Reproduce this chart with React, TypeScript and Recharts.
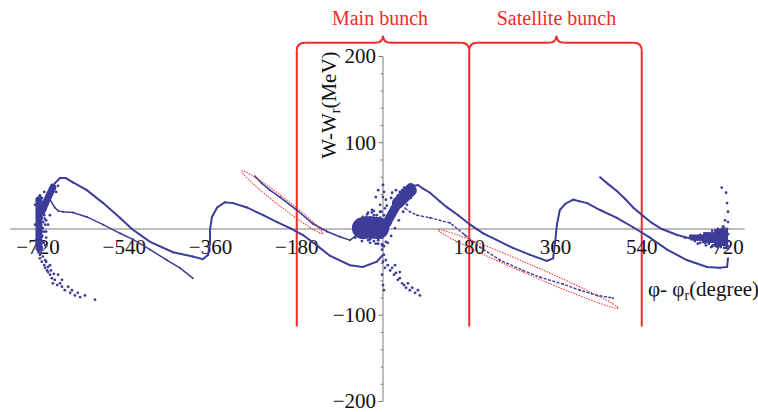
import React from 'react';
import { ScatterChart, Scatter, XAxis, YAxis, ReferenceLine, ReferenceDot } from 'recharts';

const BLUE = '#3d3d99';
const RED = '#ee2b2b';
const AXIS = '#7a7a7a';
const FONT = "'Liberation Serif', 'Times New Roman', Times, serif";

const xTicks = [-720, -540, -360, -180, 180, 360, 540, 720];
const xTickLabels = ['−720', '−540', '−360', '−180', '180', '360', '540', '720'];
const yTicks = [-200, -100, 100, 200];
const yTickLabels = ['−200', '−100', '100', '200'];
const yMinorTicks = [-180, -160, -140, -120, -80, -60, -40, -20, 20, 40, 60, 80, 120, 140, 160, 180];

// phase (deg), energy (MeV)
const upperLeftWave = [
  [-705, 28], [-695, 43], [-685, 53], [-674, 59], [-662, 59], [-647, 54], [-618, 45], [-584, 30], [-549, 13],
  [-524, 0], [-486, -15], [-438, -27], [-397, -32], [-376, -35], [-365, -30], [-361, -16], [-361, -1], [-357, 14],
  [-346, 25], [-330, 31], [-313, 30], [-284, 25], [-250, 16], [-221, 8], [-194, 1], [-167, -7], [-138, -19],
  [-111, -31], [-69, -42], [-42, -44], [-13, -38], [0, -30],
];
const lowerLeftBranch = [
  [-695, 34], [-685, 25], [-678, 21], [-668, 20], [-647, 19], [-618, 14], [-584, 5], [-549, -5], [-522, -12],
  [-486, -24], [-451, -36], [-424, -45], [-397, -57],
];
const ellipseLeftLine = [
  [-267, 61], [-253, 53], [-236, 45], [-215, 37], [-180, 22], [-146, 6], [-117, -3], [-90, -9], [-69, -13],
  [-54, -7], [-42, 1],
];
const upperRightWave = [
  [8, 8], [21, 22], [35, 36], [50, 45], [63, 50], [73, 51], [83, 47], [98, 42], [119, 32], [134, 25], [157, 16],
  [182, 5], [209, -5], [238, -13], [271, -22], [307, -30], [342, -37], [355, -34], [359, -16], [363, 5], [369, 22],
  [380, 29], [397, 34], [411, 32], [426, 30], [453, 22], [488, 13], [522, 2], [557, -10], [593, -24], [634, -36],
  [676, -44], [703, -45], [718, -44], [720, -34],
];
const lowerRightBranch = [
  [46, 24], [56, 20], [71, 16], [98, 13], [140, 7], [171, -7], [202, -21], [244, -36], [292, -48], [328, -56],
  [376, -64], [411, -71], [447, -77], [480, -80],
];
const upperRightLine = [
  [453, 60], [470, 52], [488, 44], [505, 35], [522, 25], [543, 15], [561, 7], [582, 0], [614, -7], [647, -12],
  [672, -13], [693, -10], [718, -7],
];

// dense cores of the bunches
const leftCoreBand = [[-718, 34], [-718, -22]];
const leftCoreRise = [[-712, 20], [-701, 34], [-689, 48]];
const centerCoreBlob = [[-42, 1], [-27, 2], [-10, 1]];
const centerCoreRise = [[0, -1], [15, 14], [31, 30], [46, 42], [58, 48]];
const centerCoreRiseTop = [[31, 30], [58, 45]];
const rightCoreThin = [[641, -10], [720, -10]];
const rightCoreMid = [[668, -10], [720, -10]];
const rightCoreThick = [[691, -10], [720, -10]];

const leftCluster = [
  [-722, 34], [-720, 28], [-722, 22], [-718, 16], [-720, 10], [-722, 5], [-718, -1], [-720, -7], [-716, -13],
  [-720, -19], [-714, -24], [-716, -30], [-714, 30], [-712, 24], [-716, 20], [-712, 13], [-714, 8], [-710, 1],
  [-712, -3], [-714, -10], [-710, -15], [-712, -22], [-707, 28], [-705, 22], [-707, 16], [-703, 10], [-705, 5],
  [-707, -3], [-703, -10], [-701, 36], [-699, 42], [-695, 45], [-691, 51], [-697, 34], [-695, 39], [-701, 28],
  [-689, 48], [-703, 34], [-716, 39], [-712, 36], [-719, 25], [-717, 18], [-721, 13], [-719, 2], [-717, -5],
  [-721, -12], [-717, -18], [-719, -27], [-709, 18], [-709, 8], [-711, -8], [-708, -16], [-706, 12],
  [-716, -34], [-712, -38], [-707, -42], [-705, -45], [-701, -48], [-699, -50], [-695, -53], [-691, -57],
  [-685, -59], [-689, -63], [-680, -65], [-674, -63], [-670, -67], [-664, -71], [-657, -67], [-653, -74],
  [-649, -71], [-643, -77], [-637, -74], [-632, -79], [-622, -77], [-601, -82], [-705, -36], [-695, -42],
  [-678, -53], [-670, -59], [-714, -28], [-710, -32], [-703, -38], [-699, -44], [-693, -48], [-687, -52],
  [-726, 28], [-726, 5], [-724, -13], [-705, -19], [-703, -3], [-699, 5], [-695, 16], [-682, 43], [-678, 50],
  [-707, 43], [-716, 38],
];
const centerCluster = [
  [-52, 1], [-48, -3], [-44, 5], [-40, -1], [-35, 8], [-35, -8], [-31, 1], [-27, 13], [-27, -6], [-23, 5],
  [-23, -10], [-19, 16], [-19, -1], [-15, 8], [-15, -8], [-10, 1], [-10, -13], [-6, 13], [-6, -3], [-2, 6],
  [-2, -10], [2, 1], [2, 16], [4, -6], [6, 8], [6, -15], [10, 13], [10, -1], [15, 20], [15, 6], [19, 25], [19, 13],
  [23, 31], [23, 20], [27, 34], [27, 22], [31, 39], [31, 28], [35, 43], [35, 31], [40, 45], [40, 34], [44, 48],
  [44, 37], [48, 43], [52, 48], [56, 51], [61, 45], [-40, 10], [-31, 19], [-23, 22], [-15, 37], [-10, 45],
  [-6, 28], [0, 37], [2, 43], [6, 34], [0, 51], [-58, -10], [-52, -8], [-44, -10], [-31, -13],
  [0, -19], [-2, -24], [2, -30], [0, -38], [4, -45], [-2, -53], [0, -65], [2, -71],
  [6, -36], [10, -42], [15, -48], [19, -45], [23, -53], [27, -51], [31, -59], [35, -57], [40, -63], [44, -65],
  [48, -68], [52, -63], [56, -71], [61, -68], [67, -74], [73, -71], [77, -77], [25, -42], [35, -50],
  [-27, -12], [-19, -14], [-10, -17], [-2, -18], [-35, 14], [-19, 21], [-6, 20], [4, 24], [-44, -6],
  [-48, 10], [-42, 14], [-33, 17], [-23, 19], [-13, 16], [-4, 20], [-56, 5], [-56, -5], [-44, -14], [-27, -16],
  [-15, -17], [2, -20], [10, -16], [17, -8], [25, 1], [33, 10], [42, 20], [50, 28], [58, 36], [67, 43],
  [27, 45], [17, 36], [8, 27], [19, 42],
];
const rightCluster = [
  [662, -10], [668, -15], [674, -8], [680, -17], [687, -13], [691, -6], [695, -20], [699, -10], [701, -15],
  [703, -2], [705, -21], [707, -8], [710, -13], [712, -17], [714, -5], [716, -10], [718, 0], [718, -20],
  [720, -14], [720, -6], [682, -8], [693, -15], [703, -13], [712, -9], [716, -16], [697, -3], [689, -19],
  [678, -12], [672, -16], [707, 0], [641, -8], [651, -14], [630, -10], [657, -17], [685, -21], [716, -22],
  [720, -20], [712, -1], [701, -7], [695, -12], [707, 48], [716, 42], [718, 30], [720, 20], [714, 10], [720, 8],
  [710, 3], [662, -7], [674, -5], [687, -2], [699, 0], [712, 1], [662, -16], [674, -19], [687, -20], [699, -21],
  [712, -22], [720, -23],
];

const toPts = (a: number[][]) => a.map(([x, y]) => ({ x, y }));

const smallDot = (p: any) => <circle cx={p.cx} cy={p.cy} r={1} fill={BLUE} />;
const clusterDot = (p: any) => <circle cx={p.cx} cy={p.cy} r={1.4} fill={BLUE} />;
const noDot = () => <g />;

const ellipseShape = (rx: number, ry: number, angle: number) => (p: any) => (
  <ellipse cx={p.cx} cy={p.cy} rx={rx} ry={ry} transform={`rotate(${angle} ${p.cx} ${p.cy})`}
    fill="none" stroke={RED} strokeWidth={1} strokeDasharray="1.5 1.2" />
);

const BR = 8; // bracket corner radius px
const cornerShape = (kind: string) => (p: any) => {
  const { cx, cy } = p;
  let d = '';
  if (kind === 'tl') d = `M ${cx} ${cy + BR} Q ${cx} ${cy} ${cx + BR} ${cy}`;
  if (kind === 'tr') d = `M ${cx - BR} ${cy} Q ${cx} ${cy} ${cx} ${cy + BR}`;
  if (kind === 'join') d = `M ${cx - BR} ${cy} Q ${cx} ${cy} ${cx} ${cy + BR} Q ${cx} ${cy} ${cx + BR} ${cy}`;
  if (kind === 'cusp') d = `M ${cx - BR} ${cy} Q ${cx} ${cy} ${cx} ${cy - 7} Q ${cx} ${cy} ${cx + BR} ${cy}`;
  return <path d={d} fill="none" stroke={RED} strokeWidth={2} />;
};

const BR_TOP = 216;
const BR_BOTTOM = -113;
const BR_VTOP = 206.7;

const textStyle = { fontFamily: FONT };

const core = (data: number[][], w: number, cap: string) => (
  <Scatter data={toPts(data)} fill={BLUE} stroke={BLUE}
    line={{ stroke: BLUE, strokeWidth: w, strokeLinecap: cap, strokeLinejoin: 'round' }}
    lineJointType="linear" shape={noDot} isAnimationActive={false} />
);

export default function App() {
  return (
    <div style={{ position: 'absolute', left: 0, top: 0, width: 758, height: 412, background: '#fff' }}>
      <ScatterChart width={758} height={412} margin={{ top: 0, right: 0, bottom: 0, left: 0 }}>
        <XAxis type="number" dataKey="x" domain={[-799.3, 782.6]} hide allowDataOverflow />
        <YAxis type="number" dataKey="y" domain={[-212.2, 265.5]} hide allowDataOverflow />

        <ReferenceLine segment={[{ x: -778, y: 0 }, { x: 755, y: 0 }]} stroke={AXIS} strokeWidth={1} />
        <ReferenceLine segment={[{ x: 0, y: -200 }, { x: 0, y: 200 }]} stroke={AXIS} strokeWidth={1} />

        {yMinorTicks.map((v) => (
          <ReferenceDot key={'ym' + v} x={0} y={v}
            shape={(p: any) => <line x1={p.cx - 2.5} x2={p.cx} y1={p.cy} y2={p.cy} stroke={AXIS} strokeWidth={1} />} />
        ))}
        {yTicks.map((v, i) => (
          <ReferenceDot key={'yt' + v} x={0} y={v}
            shape={(p: any) => (
              <g>
                <line x1={p.cx - 4.5} x2={p.cx} y1={p.cy} y2={p.cy} stroke={AXIS} strokeWidth={1} />
                <text x={p.cx - 7} y={p.cy + 7} textAnchor="end" fontSize={21} style={textStyle} fill="#111">{yTickLabels[i]}</text>
              </g>
            )} />
        ))}
        {xTicks.map((v, i) => (
          <ReferenceDot key={'xt' + v} x={v} y={0}
            shape={(p: any) => (
              <text x={p.cx} y={p.cy + 25} textAnchor="middle" fontSize={21} style={textStyle} fill="#111">{xTickLabels[i]}</text>
            )} />
        ))}

        {core(leftCoreBand, 7, 'round')}
        {core(leftCoreRise, 7, 'round')}
        {core(centerCoreBlob, 22, 'round')}
        {core(centerCoreRise, 9, 'round')}
        {core(centerCoreRiseTop, 12, 'round')}
        {core(rightCoreThin, 6, 'butt')}
        {core(rightCoreMid, 11, 'butt')}
        {core(rightCoreThick, 17, 'butt')}

        <Scatter data={toPts(upperLeftWave)} fill={BLUE} stroke={BLUE} line={{ stroke: BLUE, strokeWidth: 2 }} lineJointType="linear" shape={smallDot} isAnimationActive={false} />
        <Scatter data={toPts(lowerLeftBranch)} fill={BLUE} stroke={BLUE} line={{ stroke: BLUE, strokeWidth: 1.5 }} lineJointType="linear" shape={smallDot} isAnimationActive={false} />
        <Scatter data={toPts(ellipseLeftLine)} fill={BLUE} stroke={BLUE} line={{ stroke: BLUE, strokeWidth: 1.6 }} lineJointType="linear" shape={smallDot} isAnimationActive={false} />
        <Scatter data={toPts(upperRightWave)} fill={BLUE} stroke={BLUE} line={{ stroke: BLUE, strokeWidth: 2 }} lineJointType="linear" shape={smallDot} isAnimationActive={false} />
        <Scatter data={toPts(lowerRightBranch)} fill={BLUE} stroke={BLUE} line={{ stroke: BLUE, strokeWidth: 1.4, strokeDasharray: '3 1.5' }} lineJointType="linear" shape={smallDot} isAnimationActive={false} />
        <Scatter data={toPts(upperRightLine)} fill={BLUE} stroke={BLUE} line={{ stroke: BLUE, strokeWidth: 2 }} lineJointType="linear" shape={smallDot} isAnimationActive={false} />
        <Scatter data={toPts(leftCluster)} fill={BLUE} shape={clusterDot} isAnimationActive={false} />
        <Scatter data={toPts(centerCluster)} fill={BLUE} shape={clusterDot} isAnimationActive={false} />
        <Scatter data={toPts(rightCluster)} fill={BLUE} shape={clusterDot} isAnimationActive={false} />

        {/* red ellipses */}
        <ReferenceDot x={-210} y={31} shape={ellipseShape(51, 4.5, 37.7)} />
        <ReferenceDot x={303} y={-46.4} shape={ellipseShape(98, 5, 23.5)} />

        {/* brackets */}
        <ReferenceLine segment={[{ x: -180, y: BR_BOTTOM }, { x: -180, y: BR_VTOP }]} stroke={RED} strokeWidth={2} />
        <ReferenceLine segment={[{ x: 180, y: BR_BOTTOM }, { x: 180, y: BR_VTOP }]} stroke={RED} strokeWidth={2} />
        <ReferenceLine segment={[{ x: 540, y: BR_BOTTOM }, { x: 540, y: BR_VTOP }]} stroke={RED} strokeWidth={2} />
        <ReferenceLine segment={[{ x: -163.3, y: BR_TOP }, { x: -16.7, y: BR_TOP }]} stroke={RED} strokeWidth={2} />
        <ReferenceLine segment={[{ x: 16.7, y: BR_TOP }, { x: 163.3, y: BR_TOP }]} stroke={RED} strokeWidth={2} />
        <ReferenceLine segment={[{ x: 196.7, y: BR_TOP }, { x: 345.3, y: BR_TOP }]} stroke={RED} strokeWidth={2} />
        <ReferenceLine segment={[{ x: 378.7, y: BR_TOP }, { x: 523.3, y: BR_TOP }]} stroke={RED} strokeWidth={2} />
        <ReferenceDot x={-180} y={BR_TOP} shape={cornerShape('tl')} />
        <ReferenceDot x={0} y={BR_TOP} shape={cornerShape('cusp')} />
        <ReferenceDot x={180} y={BR_TOP} shape={cornerShape('join')} />
        <ReferenceDot x={362} y={BR_TOP} shape={cornerShape('cusp')} />
        <ReferenceDot x={540} y={BR_TOP} shape={cornerShape('tr')} />

        <ReferenceDot x={0} y={236.5} shape={(p: any) => (
          <text x={p.cx - 3} y={p.cy} textAnchor="middle" fontSize={20} style={textStyle} fill={RED}>Main bunch</text>
        )} />
        <ReferenceDot x={362} y={236.5} shape={(p: any) => (
          <text x={p.cx} y={p.cy} textAnchor="middle" fontSize={20} style={textStyle} fill={RED}>Satellite bunch</text>
        )} />

        {/* axis titles */}
        <ReferenceDot x={-98} y={143.7} shape={(p: any) => (
          <text x={p.cx} y={p.cy} transform={`rotate(-90 ${p.cx} ${p.cy})`} textAnchor="middle" fontSize={21} style={textStyle} fill="#111">
            W-W<tspan fontSize={14} dy={4}>r</tspan><tspan dy={-4}>(MeV)</tspan>
          </text>
        )} />
        <ReferenceDot x={553} y={-77.7} shape={(p: any) => (
          <text x={p.cx} y={p.cy} textAnchor="start" fontSize={21} style={textStyle} fill="#111">
            φ- φ<tspan fontSize={14} dy={4}>r</tspan><tspan dy={-4}>(degree)</tspan>
          </text>
        )} />
      </ScatterChart>
    </div>
  );
}
